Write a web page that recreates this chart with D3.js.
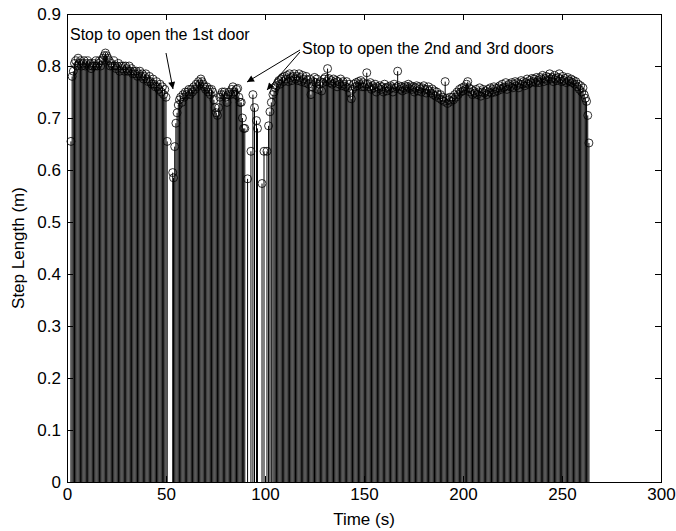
<!DOCTYPE html>
<html>
<head>
<meta charset="utf-8">
<script src="https://cdn.jsdelivr.net/npm/d3@7"></script>
<style>
  body { margin: 0; background: #fff; }
  text { font-family: Arial, "Liberation Sans", sans-serif; }
</style>
</head>
<body>
<script>
// data
const times = [
  // first walk, up to the 1st door
  2.0, 2.6, 3.2, 3.8, 4.4, 5.0, 5.6, 6.2, 6.8, 7.4, 8.0, 8.6, 9.2, 9.8, 10.4, 11.0, 11.6, 12.2, 12.8, 13.4,
  14.0, 14.6, 15.2, 15.8, 16.4, 17.0, 17.6, 18.2, 18.8, 19.4, 20.0, 20.6, 21.2, 21.8, 22.4, 23.0, 23.6, 24.2, 24.8, 25.4,
  26.0, 26.6, 27.2, 27.8, 28.4, 29.0, 29.6, 30.2, 30.8, 31.4, 32.0, 32.6, 33.2, 33.8, 34.4, 35.0, 35.6, 36.2, 36.8, 37.4,
  38.0, 38.6, 39.2, 39.8, 40.4, 41.0, 41.6, 42.2, 42.8, 43.4, 44.0, 44.6, 45.2, 45.8, 46.4, 47.0, 47.6, 48.2, 48.8, 49.4,
  50.0, 50.6,
  // between 1st and 2nd door
  53.4, 53.8, 54.4, 55.0, 55.6, 56.2, 56.8, 57.4, 58.0, 58.6, 59.2, 59.8, 60.4, 61.0, 61.6, 62.2, 62.8, 63.4, 64.0, 64.6,
  65.2, 65.8, 66.4, 67.0, 67.6, 68.2, 68.8, 69.4, 70.0, 70.6, 71.2, 71.8, 72.4, 73.0, 73.6, 74.2, 74.8, 75.4, 76.0, 76.6,
  77.2, 77.8, 78.4, 79.0, 79.6, 80.2, 80.8, 81.4, 82.0, 82.6, 83.2, 83.8, 84.4, 85.0, 85.6, 86.2, 86.8, 87.4, 88.0, 88.6,
  89.2, 89.8,
  // doors 2 and 3
  91.2, 92.9, 93.9, 94.7, 95.7, 96.2, 98.5, 99.5, 101.0, 101.8, 102.5, 103.2,
  // rest of the walk
  104.0, 104.6, 105.2, 105.8, 106.4, 107.0, 107.6, 108.2, 108.8, 109.4,
  110.0, 110.6, 111.2, 111.8, 112.4, 113.0, 113.6, 114.2, 114.8, 115.4,
  116.0, 116.6, 117.2, 117.8, 118.4, 119.0, 119.6, 120.2, 120.8, 121.4,
  122.0, 122.6, 123.2, 123.8, 124.4, 125.0, 125.6, 126.2, 126.8, 127.4,
  128.0, 128.6, 129.2, 129.8, 130.4, 131.0, 131.6, 132.2, 132.8, 133.4,
  134.0, 134.6, 135.2, 135.8, 136.4, 137.0, 137.6, 138.2, 138.8, 139.4,
  140.0, 140.6, 141.2, 141.8, 142.4, 143.0, 143.6, 144.2, 144.8, 145.4,
  146.0, 146.6, 147.2, 147.8, 148.4, 149.0, 149.6, 150.2, 150.8, 151.4,
  152.0, 152.6, 153.2, 153.8, 154.4, 155.0, 155.6, 156.2, 156.8, 157.4,
  158.0, 158.6, 159.2, 159.8, 160.4, 161.0, 161.6, 162.2, 162.8, 163.4,
  164.0, 164.6, 165.2, 165.8, 166.4, 167.0, 167.6, 168.2, 168.8, 169.4,
  170.0, 170.6, 171.2, 171.8, 172.4, 173.0, 173.6, 174.2, 174.8, 175.4,
  176.0, 176.6, 177.2, 177.8, 178.4, 179.0, 179.6, 180.2, 180.8, 181.4,
  182.0, 182.6, 183.2, 183.8, 184.4, 185.0, 185.6, 186.2, 186.8, 187.4,
  188.0, 188.6, 189.2, 189.8, 190.4, 191.0, 191.6, 192.2, 192.8, 193.4,
  194.0, 194.6, 195.2, 195.8, 196.4, 197.0, 197.6, 198.2, 198.8, 199.4,
  200.0, 200.6, 201.2, 201.8, 202.4, 203.0, 203.6, 204.2, 204.8, 205.4,
  206.0, 206.6, 207.2, 207.8, 208.4, 209.0, 209.6, 210.2, 210.8, 211.4,
  212.0, 212.6, 213.2, 213.8, 214.4, 215.0, 215.6, 216.2, 216.8, 217.4,
  218.0, 218.6, 219.2, 219.8, 220.4, 221.0, 221.6, 222.2, 222.8, 223.4,
  224.0, 224.6, 225.2, 225.8, 226.4, 227.0, 227.6, 228.2, 228.8, 229.4,
  230.0, 230.6, 231.2, 231.8, 232.4, 233.0, 233.6, 234.2, 234.8, 235.4,
  236.0, 236.6, 237.2, 237.8, 238.4, 239.0, 239.6, 240.2, 240.8, 241.4,
  242.0, 242.6, 243.2, 243.8, 244.4, 245.0, 245.6, 246.2, 246.8, 247.4,
  248.0, 248.6, 249.2, 249.8, 250.4, 251.0, 251.6, 252.2, 252.8, 253.4,
  254.0, 254.6, 255.2, 255.8, 256.4, 257.0, 257.6, 258.2, 258.8, 259.4,
  260.0, 260.6, 261.2, 261.8, 262.4, 263.0, 263.6
];

const stepLengths = [
  0.655, 0.78, 0.79, 0.805, 0.81, 0.80, 0.815, 0.805, 0.81, 0.80, 0.805, 0.81, 0.80, 0.805, 0.81, 0.80, 0.805, 0.795, 0.80, 0.805,
  0.80, 0.81, 0.80, 0.805, 0.81, 0.80, 0.81, 0.815, 0.82, 0.825, 0.82, 0.815, 0.81, 0.80, 0.805, 0.80, 0.81, 0.80, 0.795, 0.80,
  0.805, 0.79, 0.80, 0.795, 0.80, 0.79, 0.80, 0.795, 0.79, 0.80, 0.79, 0.795, 0.785, 0.79, 0.785, 0.79, 0.78, 0.785, 0.79, 0.78,
  0.785, 0.775, 0.78, 0.785, 0.775, 0.77, 0.78, 0.77, 0.765, 0.775, 0.765, 0.76, 0.77, 0.76, 0.755, 0.765, 0.75, 0.76, 0.745, 0.755,
  0.74, 0.655,
  0.595, 0.585, 0.645, 0.69, 0.71, 0.725, 0.735, 0.74, 0.73, 0.745, 0.74, 0.75, 0.745, 0.75, 0.755, 0.745, 0.755, 0.75, 0.76, 0.755,
  0.765, 0.76, 0.77, 0.765, 0.775, 0.77, 0.765, 0.76, 0.755, 0.76, 0.75, 0.755, 0.745, 0.755, 0.75, 0.735, 0.72, 0.71, 0.705, 0.72,
  0.74, 0.745, 0.75, 0.745, 0.75, 0.74, 0.73, 0.745, 0.75, 0.745, 0.755, 0.76, 0.75, 0.745, 0.755, 0.757, 0.74, 0.73, 0.73, 0.70,
  0.68, 0.68,
  0.583, 0.636, 0.745, 0.72, 0.695, 0.68, 0.574, 0.636, 0.636, 0.685, 0.712, 0.73,
  0.745, 0.75, 0.758, 0.762, 0.768, 0.772, 0.765, 0.775, 0.778, 0.77,
  0.78, 0.775, 0.782, 0.77, 0.785, 0.778, 0.772, 0.78, 0.785, 0.775,
  0.78, 0.772, 0.785, 0.778, 0.77, 0.782, 0.775, 0.768, 0.78, 0.773,
  0.765, 0.775, 0.745, 0.76, 0.77, 0.778, 0.768, 0.775, 0.755, 0.765,
  0.77, 0.752, 0.768, 0.775, 0.778, 0.77, 0.795, 0.776, 0.768, 0.772,
  0.765, 0.775, 0.768, 0.772, 0.76, 0.77, 0.765, 0.775, 0.762, 0.77,
  0.765, 0.76, 0.77, 0.758, 0.765, 0.748, 0.737, 0.755, 0.765, 0.76,
  0.768, 0.762, 0.77, 0.765, 0.772, 0.76, 0.768, 0.76, 0.765, 0.787,
  0.765, 0.76, 0.768, 0.755, 0.762, 0.758, 0.765, 0.75, 0.76, 0.757,
  0.762, 0.755, 0.76, 0.75, 0.765, 0.758, 0.752, 0.76, 0.755, 0.762,
  0.758, 0.75, 0.765, 0.757, 0.76, 0.79, 0.762, 0.755, 0.76, 0.752,
  0.758, 0.762, 0.755, 0.76, 0.765, 0.757, 0.762, 0.755, 0.76, 0.75,
  0.758, 0.762, 0.752, 0.76, 0.756, 0.75, 0.758, 0.762, 0.755, 0.748,
  0.755, 0.76, 0.752, 0.748, 0.756, 0.745, 0.752, 0.742, 0.75, 0.745,
  0.738, 0.745, 0.735, 0.74, 0.732, 0.77, 0.738, 0.728, 0.735, 0.74,
  0.732, 0.74, 0.735, 0.745, 0.74, 0.75, 0.745, 0.755, 0.75, 0.758,
  0.752, 0.76, 0.755, 0.765, 0.77, 0.758, 0.75, 0.755, 0.745, 0.752,
  0.748, 0.755, 0.745, 0.75, 0.758, 0.742, 0.75, 0.755, 0.748, 0.752,
  0.745, 0.755, 0.75, 0.758, 0.748, 0.755, 0.76, 0.75, 0.757, 0.752,
  0.758, 0.762, 0.755, 0.765, 0.758, 0.76, 0.768, 0.755, 0.762, 0.765,
  0.76, 0.768, 0.758, 0.765, 0.77, 0.762, 0.768, 0.758, 0.765, 0.772,
  0.765, 0.77, 0.762, 0.768, 0.775, 0.765, 0.772, 0.768, 0.776, 0.77,
  0.775, 0.768, 0.778, 0.772, 0.768, 0.778, 0.775, 0.782, 0.77, 0.776,
  0.78, 0.772, 0.778, 0.785, 0.775, 0.778, 0.77, 0.782, 0.776, 0.772,
  0.778, 0.785, 0.775, 0.77, 0.78, 0.772, 0.776, 0.768, 0.778, 0.772,
  0.77, 0.775, 0.768, 0.772, 0.765, 0.77, 0.76, 0.765, 0.755, 0.762,
  0.75, 0.758, 0.745, 0.738, 0.732, 0.705, 0.652
];

const xTicks = [0, 50, 100, 150, 200, 250, 300];
const yTicks = [0, 0.1, 0.2, 0.3, 0.4, 0.5, 0.6, 0.7, 0.8, 0.9];

// annotation texts
const noteFirst = "Stop to open the 1st door";
const noteSecond = "Stop to open the 2nd and 3rd doors";

const width = 676,
  height = 531;
const margin = { top: 14, right: 15, bottom: 49, left: 67 };

let svg, plot, xScale, yScale;

const drawCanvas = () => {
  svg = d3
    .select("body")
    .append("svg")
    .attr("width", width)
    .attr("height", height);

  svg
    .append("defs")
    .append("marker")
    .attr("id", "arrow")
    .attr("viewBox", "0 0 10 10")
    .attr("refX", 10)
    .attr("refY", 5)
    .attr("markerWidth", 10)
    .attr("markerHeight", 7)
    .attr("markerUnits", "userSpaceOnUse")
    .attr("orient", "auto")
    .append("path")
    .attr("d", "M0,0 L10,5 L0,10 Z")
    .attr("fill", "#000");

  plot = svg.append("g");
};

const generateScales = () => {
  xScale = d3
    .scaleLinear()
    .domain([0, 300])
    .range([margin.left, width - margin.right]);

  yScale = d3
    .scaleLinear()
    .domain([0, 0.9])
    .range([height - margin.bottom, margin.top]);
};

const drawStems = () => {
  const data = times.map((t, i) => ({ t: t, v: stepLengths[i] }));

  plot
    .selectAll("line.stem")
    .data(data)
    .enter()
    .append("line")
    .attr("class", "stem")
    .attr("x1", (d) => xScale(d.t))
    .attr("x2", (d) => xScale(d.t))
    .attr("y1", yScale(0))
    .attr("y2", (d) => yScale(d.v))
    .attr("stroke", "#000")
    .attr("stroke-width", 1);

  plot
    .selectAll("circle.dot")
    .data(data)
    .enter()
    .append("circle")
    .attr("class", "dot")
    .attr("cx", (d) => xScale(d.t))
    .attr("cy", (d) => yScale(d.v))
    .attr("r", 4)
    .attr("fill", "none")
    .attr("stroke", "#000")
    .attr("stroke-width", 0.8);
};

const generateAxis = () => {
  const x0 = xScale.range()[0],
    x1 = xScale.range()[1],
    y0 = yScale.range()[0],
    y1 = yScale.range()[1];

  // bottom + left with labels, ticks pointing inward (matlab style)
  const xAxis = svg
    .append("g")
    .attr("transform", "translate(0," + y0 + ")")
    .call(d3.axisBottom(xScale).tickValues(xTicks).tickSize(-6).tickPadding(6));

  const yAxis = svg
    .append("g")
    .attr("transform", "translate(" + x0 + ",0)")
    .call(
      d3
        .axisLeft(yScale)
        .tickValues(yTicks)
        .tickSize(-6)
        .tickPadding(6)
        .tickFormat((d) => (d === 0 ? "0" : d3.format(".1f")(d)))
    );

  // top + right, ticks only
  const xTop = svg
    .append("g")
    .attr("transform", "translate(0," + y1 + ")")
    .call(d3.axisTop(xScale).tickValues(xTicks).tickSize(-6).tickFormat(""));

  const yRight = svg
    .append("g")
    .attr("transform", "translate(" + x1 + ",0)")
    .call(d3.axisRight(yScale).tickValues(yTicks).tickSize(-6).tickFormat(""));

  [xAxis, yAxis, xTop, yRight].forEach((g) => {
    g.select(".domain").remove();
    g.selectAll("line").attr("stroke", "#000").attr("shape-rendering", "crispEdges");
    g.selectAll("text").attr("fill", "#000").style("font-size", "17px");
  });

  svg
    .append("rect")
    .attr("x", x0)
    .attr("y", y1)
    .attr("width", x1 - x0)
    .attr("height", y0 - y1)
    .attr("fill", "none")
    .attr("stroke", "#000")
    .attr("shape-rendering", "crispEdges");

  svg
    .append("text")
    .attr("x", (x0 + x1) / 2)
    .attr("y", 525)
    .attr("text-anchor", "middle")
    .style("font-size", "17px")
    .text("Time (s)");

  svg
    .append("text")
    .attr("transform", "rotate(-90)")
    .attr("x", -(y0 + y1) / 2)
    .attr("y", 24)
    .attr("text-anchor", "middle")
    .style("font-size", "17px")
    .text("Step Length (m)");
};

const drawNotes = () => {
  svg
    .append("text")
    .attr("x", 70)
    .attr("y", 40)
    .style("font-size", "16px")
    .text(noteFirst);

  svg
    .append("line")
    .attr("x1", 166)
    .attr("y1", 53)
    .attr("x2", 173)
    .attr("y2", 89)
    .attr("stroke", "#000")
    .attr("marker-end", "url(#arrow)");

  svg
    .append("text")
    .attr("x", 302)
    .attr("y", 54)
    .style("font-size", "16px")
    .text(noteSecond);

  svg
    .append("line")
    .attr("x1", 300)
    .attr("y1", 50)
    .attr("x2", 247)
    .attr("y2", 82)
    .attr("stroke", "#000")
    .attr("marker-end", "url(#arrow)");

  svg
    .append("line")
    .attr("x1", 300)
    .attr("y1", 52)
    .attr("x2", 267)
    .attr("y2", 90)
    .attr("stroke", "#000")
    .attr("marker-end", "url(#arrow)");
};

drawCanvas();
generateScales();
drawStems();
generateAxis();
drawNotes();
</script>
</body>
</html>
